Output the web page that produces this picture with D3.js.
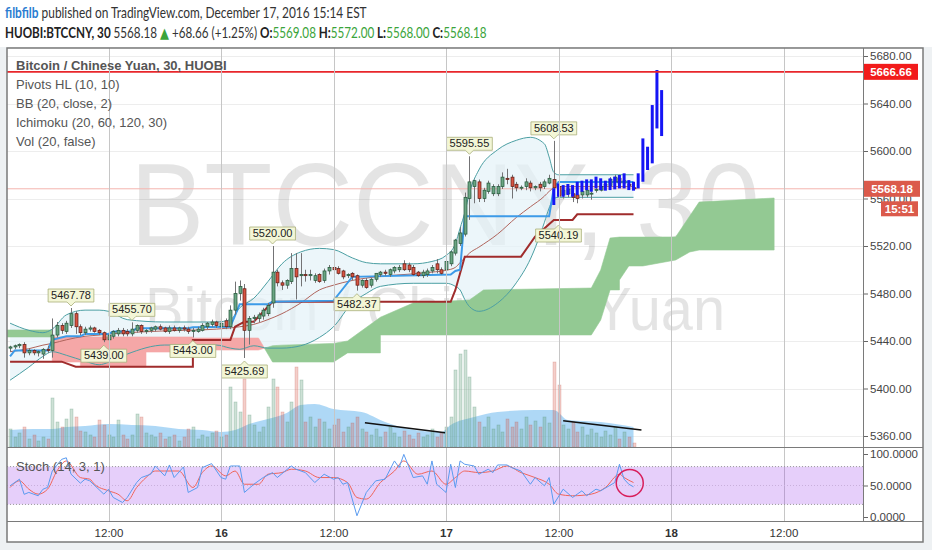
<!DOCTYPE html>
<html>
<head>
<meta charset="utf-8">
<script src="https://cdn.jsdelivr.net/npm/d3@7"></script>
<style>
  html, body { margin: 0; padding: 0; background: #fff; }
  svg { display: block; font-family: "Liberation Sans", Arial, sans-serif; }
</style>
</head>
<body>
<div id="chart"></div>
<script>
// 30 min candles, first bar Dec 15 01:30
const opens = [5434,5435,5436,5437,5430,5432,5430,5429,5433,5432, 5445,5453,5448,5453,5463,5452,5447,5450,5451,5449,
  5447,5441,5444,5446,5449,5448,5446,5449,5453,5448, 5449,5450,5452,5451,5448,5451,5449,5451,5450,5448,
  5448,5449,5452,5454,5456,5452,5457,5452,5466,5480, 5484,5449,5459,5459,5461,5463,5472,5498,5489,5487,
  5490,5501,5495,5496,5495,5491,5496,5491,5499,5502, 5501,5499,5495,5497,5495,5487,5491,5487,5492,5496,
  5498,5496,5499,5500,5505,5504,5502,5498,5495,5496, 5499,5505,5500,5500,5505,5514,5522,5530,5560,5570,
  5574,5560,5566,5564,5564,5570,5577,5578,5572,5569, 5570,5573,5569,5572,5570,5573,5576,5570,5563,5564,
  5564,5563,5563,5563,5564,5567,5567,5571,5571,5574, 5577,5573,5572,5569.08];
const highs = [5436,5437,5438,5439,5434,5433,5432,5434,5436,5459, 5456,5455,5457,5467.78,5465,5454,5452,5453,5452,5450,
  5448,5446,5449,5451,5451,5450,5455.7,5454,5454,5450, 5452,5453,5454,5452,5453,5453,5452,5453,5452,5451,
  5452,5455,5456,5458,5457,5456,5459,5470,5490,5491, 5488,5461,5462,5464,5468,5472,5520,5500,5491,5492,
  5514,5514,5514,5500,5500,5497,5497,5501,5504,5503, 5503,5500,5497,5498,5496,5492,5493,5493,5497,5499,
  5500,5501,5503,5504,5508,5506,5504,5499,5500,5501, 5504,5509,5502,5508,5516,5526,5536,5565,5595.55,5576,
  5576,5569,5575,5572,5572,5582,5585,5580,5574,5571, 5577,5575,5571,5574,5576,5580,5608.53,5572,5570,5570,
  5566,5564,5567,5569,5566,5569,5572,5573,5578,5580, 5580,5577,5574,5572];
const lows = [5431,5433,5434,5426,5428,5428,5427,5425,5430,5426, 5443,5446,5446,5451,5446,5445,5445,5448,5447,5445,
  5439,5440,5442,5444,5444,5444,5444,5447,5446,5446, 5447,5448,5449,5447,5446,5448,5447,5448,5446,5443,
  5447,5448,5450,5452,5451,5450,5450,5450,5462,5474, 5425.69,5437,5455,5456,5458,5461,5468,5486,5483,5484,
  5488,5475,5486,5490,5491,5489,5489,5489,5496,5497, 5496,5492,5493,5491,5482.37,5485,5484,5485,5490,5494,
  5495,5494,5497,5498,5499,5498,5495,5494,5493,5494, 5497,5497,5496,5498,5503,5512,5520,5528,5542,5556,
  5557,5557,5564,5562,5562,5568,5572,5560,5566,5567, 5567,5566,5567,5566,5568,5572,5560,5540.19,5560,5561,
  5557,5556,5560,5561,5559,5565,5566,5569,5569,5572, 5571,5571,5569,5568];
const closes = [5435,5436,5437,5430,5432,5430,5431,5433,5432,5445, 5453,5449,5455,5463,5452,5447,5450,5451,5448,5447,
  5441,5445,5448,5449,5446,5446,5450,5453,5448,5449, 5451,5452,5450,5448,5451,5449,5451,5450,5448,5449,
  5450,5453,5455,5456,5453,5455,5452,5466,5480,5486, 5449,5459,5460,5462,5466,5470,5498,5489,5487,5491,
  5501,5494,5496,5495,5496,5495,5490,5499,5502,5500, 5497,5494,5496,5494,5487,5491,5485,5492,5497,5498,
  5497,5500,5502,5502,5500,5500,5496,5495,5498,5499, 5502,5500,5497,5507,5515,5525,5531,5561,5574,5575,
  5560,5567,5573,5570,5570,5578,5576,5570,5569,5569.5, 5574,5569,5570,5569,5574,5577,5569,5562,5567,5568,
  5561,5560,5566,5567,5564.5,5567.5,5570,5572,5576,5578, 5573,5575,5571,5568.18];
const volumes = [18,10,14,20,8,12,6,10,8, 49,25,20,28,38,30,16, 15,12,10,27,22,12,10,27,12,
  8,12,33,30,14,12,10,14,8,10,12,6,10, 18,20,8,12,10,14,16,10,12,
  60,45,35,68,32,22,15,20,40,68,60,35,25,45,80, 67,
  25,30,20,28,25,18,22,28,15,20,24,30,18,15, 12,18,10,15,20,14,10,16,12,8,14,10,12,18,10,14,
  20,30,77,93,97,70,40, 25,20,30,18,22,15,28,20,25,18,30,22,26,20,30,24,
  85,62,22,18,25,15,20,12,18,14,10,16,12,20,8,15,10,4];

// volume MA (20)
const volMaBar = [0,5,9,12,16,21,26,31,36,41,45,48,51,55,59,62,65,69,75,80,85,92,94,99,104,112,116,119,126,133];
const volMa = [17,18,18,20,21,23,22,21,18,17,15,17,23,28,34,42,43,38,35,25,18,15,22,30,35,37,37,27,25,20];

// Bollinger (20, close, 2)
const bbBar = [0,4,7,9,12,16,19,21,25,33,44,47,49,52,55,58,62,66,69,73,76,79,86,90,93,95,96,97,98,100,104,108,111,114,115,116,117,125,133];
const bbUpper = [5455,5449,5447,5450,5462,5466,5466,5465,5458,5456,5456,5458,5468,5476,5490,5505,5515,5518,5517,5510,
  5506,5505,5505,5507,5512,5522,5535,5548,5565,5584,5601,5609,5611.5,5606,5595,5582,5580,5580,5580];
const bbLower = [5407,5418,5427,5431,5428,5423,5420,5422,5429,5436.6,5436.6,5434,5433,5436,5434,5434,5436,5443,5452,5472,
  5480,5486,5488.6,5488.6,5488.6,5486,5483,5475,5469,5465,5472,5489,5509,5540,5552,5560,5561,5561,5561];
const bbBasis = [5431,5433.5,5436.5,5438,5441,5444,5445,5446,5447,5448.5,5450,5451,5452,5454,5458,5463,5472,5483,5487,5491,
  5493,5494.5,5496.5,5498,5499.5,5502,5506,5510,5514,5519,5530,5544,5553,5562,5566,5569,5570,5570,5570];

// Ichimoku (20, 60, 120, 30)
const tenkanBar = [0,1,8,9,12,15,16,21,22,26,27,38,39,47,49,55,56,69,71,73,94,95,96,97,115,116,117,133];
const tenkan = [5427,5432,5432,5441,5444,5444,5446,5446,5448,5448,5450.7,5450.7,5451.5,5452,5471,5471,5473,5474,5484,5494,
  5496,5499,5500,5545,5545,5569,5574,5574];
const kijunBar = [0,11,14,39,39,47,48,50,52,56,94,95,97,109,112,116,120,121,133];
const kijun = [5422.6,5422.6,5418.4,5418.4,5440.9,5440.9,5452,5456.3,5456.3,5473,5473,5483,5511,5511,5527.8,5541.9,5541.9,5546.7,5546.7];
const cloudBar = [-1,9,9,15,15,29,29,39,39,53,56,58,69,72,79,79,86,98,101,124,126,128,130,130,132,135,142,145,147,163];
const spanA = [5449.3,5449.3,5422.3,5422.3,5418.1,5418.1,5430.7,5430.7,5432.4,5432.4,5436,5436.5,5438,5440,5460,5460,
  5472,5474.5,5483,5484.6,5499.8,5526.7,5527.5,5527.5,5527.5,5527.5,5527.6,5545.3,5557,5560.4];
const spanB = [5443.4,5443.4,5443.4,5443.4,5443.4,5443.4,5443.4,5443.4,5442.5,5442.5,5422.3,5422.3,5422.3,5430,5430,5445.1,
  5445.1,5445.1,5445.1,5445.1,5457.7,5483,5483,5491.4,5503.2,5503.2,5508.2,5515,5516.6,5516.6];

// Pivots HL (10, 10)
const pivotBar = [13,20,26,39,50,56,74,98,116,117];
const pivotKind = ["H","L","H","L","L","H","L","H","H","L"];

// bars pattern drawing (blue)
const ghostStart = 116;
const ghostHigh = [5568.5,5572.7,5571.3,5572.2,5571.3,5574.1,5575,5576.1,5576.1,5578.4,5577,5575,5577,5578.4,5579.8,5581.2,
  5575.5,5574.1,5581.2,5610.6,5603.6,5638.7,5668.2,5651.3];
const ghostLow = [5554.5,5561.5,5561.5,5562.9,5561.5,5562.9,5565.7,5567.1,5565.7,5568.5,5567.1,5566.6,5567.1,5567.7,5568.5,5568.5,
  5567.1,5566.6,5568.5,5574.1,5584,5589.6,5619,5612.6];

// trend lines on volume [bar, volume]
const volTrend1 = [[75.7, 24.3], [92.8, 14.3]];
const volTrend2 = [[118, 26.3], [134.7, 17]];

// Stoch (14, 3, 1)
const stochKBar = [0,2,3,4,6,7,8,9,11,12,13,15,16,17,20,21,22,24,25,27,28,30,31,33,34,35,37,38,40,41,43,45,46,47,49,50,52,54,56,57,
  60,61,63,65,67,69,70,71,72,74,76,78,80,82,83,84,86,88,89,90,91,93,94,95,96,97,99,100,102,103,104,106,107,109,111,112,114,115,116,118,
  120,122,123,125,126,129,130,131,132,133];
const stochK = [49.5,60,36,39,33.7,44,47,73,91.5,94,68,53.7,60,57.4,36.3,44,31,23,31,54.7,62.6,67.9,81,65.3,82.6,62.6,79.5,39,46.8,78.4,
  84.7,62.6,60,81,81,39,52,62.6,70.5,62.6,81,75.8,70.5,54.7,67.9,60,62.6,52,54.7,2,39,57.4,60,89,78.4,99.4,62.6,65.3,52,89,
  52,39,83.7,46.8,89,83.7,81,67.9,75.8,70.5,82.6,82.6,78.4,73,52,62.6,49.5,62.6,20.5,44.2,31,41.6,33.7,44.2,41.6,54.7,83.7,60,52,47.9];
const stochDBar = [0,2,4,6,8,10,12,15,17,18,21,23,25,27,29,31,33,36,39,41,43,46,48,50,53,55,58,60,63,66,69,72,74,76,79,82,84,87,90,93,
  95,97,100,103,106,109,112,115,117,120,124,127,130,131,133];
const stochD = [46.8,57.4,44.2,36.3,44.2,73,88.9,62.6,60,52,41.6,36.3,25.8,46.8,62.6,73,73,73,46.8,70.5,81,65.3,73,52,52,67.9,70.5,75.8,73,62.6,
  62.6,54.7,31,28.4,54.7,73,89,67.9,73,52,62.6,73,70.5,73,81,70.5,62.6,52,36.3,33.7,36.3,46.8,67.9,62.6,54.7];
const stochCircle = [132.2, 54];

const priceTicks = [5360,5400,5440,5480,5520,5560,5600,5640,5680];
const stochTicks = [0,50,100];
const timeTicks = [Date.UTC(2016,11,15,12), Date.UTC(2016,11,16), Date.UTC(2016,11,16,12), Date.UTC(2016,11,17),
  Date.UTC(2016,11,17,12), Date.UTC(2016,11,18), Date.UTC(2016,11,18,12)];
const timeLabels = ["12:00","16","12:00","17","12:00","18","12:00"];
const alertPrice = 5666.66;
const lastPrice = 5568.18;
const countdown = "15:51";

const W = 932, H = 550;
const left = 7, right = 863, frameRight = 923;
const mainTop = 48, mainBottom = 447, stochBottom = 521, frameBottom = 542;

let svg = d3.select("#chart").append("svg").attr("width", W).attr("height", H);
svg.append("rect").attr("x", 0).attr("y", 0).attr("width", W).attr("height", H).attr("fill", "#eef1f3");
svg.append("rect").attr("x", 0).attr("y", 0).attr("width", W).attr("height", 47).attr("fill", "#fff");
svg.append("rect").attr("x", left).attr("y", mainTop).attr("width", frameRight - left).attr("height", frameBottom - mainTop).attr("fill", "#fff");

// scales
const t0 = Date.UTC(2016, 11, 15, 1, 30);
const halfHour = 30 * 60 * 1000;
let x = d3.scaleUtc().domain([new Date(Date.UTC(2016,11,16)), new Date(Date.UTC(2016,11,17))]).range([221, 446]);
x.domain([x.invert(left), x.invert(right)]).range([left, right]);
const bx = i => x(new Date(t0 + i * halfHour));
const y = d3.scaleLinear().domain([5360, 5680]).range([436, 56]);
const yv = d3.scaleLinear().domain([0, 100]).range([447, 347]);
const ys = d3.scaleLinear().domain([0, 100]).range([517, 454]);

// header
let h1 = svg.append("text").attr("font-family", "Lato").attr("font-size", 14.5);
h1.append("tspan").attr("fill", "#2a7dd1").attr("font-weight", "bold").text("filbfilb");
h1.append("tspan").attr("fill", "#333").text(" published on TradingView.com, December 17, 2016 15:14 EST");
let h2 = svg.append("text").attr("font-family", "Lato").attr("font-size", 15);
const green = "#3ba43b";
h2.append("tspan").attr("fill", "#222").attr("font-weight", "bold").text("HUOBI:BTCCNY, 30 ");
h2.append("tspan").attr("fill", "#333").text(lastPrice.toFixed(2) + " ");
h2.append("tspan").attr("fill", green).attr("font-family", "DejaVu Sans").attr("font-size", 15).text("\u25B2");
h2.append("tspan").attr("fill", "#333").text(" +68.66 (+1.25%) ");
[["O:", "5569.08"], ["H:", "5572.00"], ["L:", "5568.00"], ["C:", "5568.18"]].forEach(function (p, k) {
  h2.append("tspan").attr("fill", "#222").attr("font-weight", "bold").text((k ? " " : "") + p[0]);
  h2.append("tspan").attr("fill", green).text(p[1]);
});
function fitText(t, x0, base, target) {
  let w = t.node().getComputedTextLength();
  t.attr("transform", "translate(" + x0 + "," + base + ") scale(" + (target / w) + ",1)");
}
fitText(h1, 5, 17.5, 362);
fitText(h2, 5, 37.5, 482);

svg.append("defs").append("clipPath").attr("id", "mainClip").append("rect")
  .attr("x", left).attr("y", mainTop).attr("width", right - left).attr("height", mainBottom - mainTop);
svg.select("defs").append("clipPath").attr("id", "stochClip").append("rect")
  .attr("x", left).attr("y", mainBottom).attr("width", right - left).attr("height", stochBottom - mainBottom);

let main = svg.append("g").attr("clip-path", "url(#mainClip)");

// grid
priceTicks.forEach(function (p) {
  main.append("line").attr("x1", left).attr("x2", right).attr("y1", Math.round(y(p)) + 0.5).attr("y2", Math.round(y(p)) + 0.5)
    .attr("stroke", "#ededed");
});
timeTicks.forEach(function (t) {
  let gx = Math.round(x(new Date(t))) + 0.5;
  svg.append("line").attr("x1", gx).attr("x2", gx).attr("y1", mainTop).attr("y2", stochBottom).attr("stroke", "#c6c6c6");
});

// watermark
main.append("text").attr("x", 130).attr("y", 245).attr("font-size", 116).attr("fill", "#000").attr("opacity", 0.1)
  .attr("textLength", 630).attr("lengthAdjust", "spacingAndGlyphs").text("BTCCNY, 30");
main.append("text").attr("x", 145).attr("y", 330).attr("font-size", 62).attr("fill", "#000").attr("opacity", 0.1)
  .attr("textLength", 580).attr("lengthAdjust", "spacingAndGlyphs").text("Bitcoin / Chinese Yuan");

// bollinger fill
const bb = bbBar.map((b, k) => ({i: b, u: bbUpper[k], l: bbLower[k], m: bbBasis[k]}));
main.append("path").datum(bb)
  .attr("d", d3.area().x(d => bx(d.i)).y0(d => y(d.l)).y1(d => y(d.u)).curve(d3.curveMonotoneX))
  .attr("fill", "#e4f2f8").attr("opacity", 0.7);

// ichimoku cloud, split where the spans cross
let runs = [], cur = null;
cloudBar.forEach(function (b, k) {
  let p = {i: b, a: spanA[k], b: spanB[k]};
  let s = Math.sign(p.a - p.b);
  if (!cur) { cur = {s: s, pts: [p]}; return; }
  let prev = cur.pts[cur.pts.length - 1];
  if (s === cur.s || s === 0) { cur.pts.push(p); return; }
  let d0 = prev.a - prev.b, d1 = p.a - p.b, t = d0 / (d0 - d1);
  let c = {i: prev.i + t * (p.i - prev.i), a: prev.a + t * (p.a - prev.a)};
  c.b = c.a;
  cur.pts.push(c); runs.push(cur);
  cur = {s: s, pts: [c, p]};
});
runs.push(cur);
const cloudArea = d3.area().x(d => bx(d.i)).y0(d => y(d.b)).y1(d => y(d.a));
runs.forEach(function (r) {
  main.append("path").attr("d", cloudArea(r.pts)).attr("fill", r.s > 0 ? "#93c993" : "#f5a7a7")
    .attr("stroke", r.s > 0 ? "#93c993" : "#f5a7a7").attr("stroke-width", 0.6);
});

// volume
const vm = volMaBar.map((b, k) => ({i: b, v: volMa[k]}));
main.append("path").datum(vm)
  .attr("d", d3.area().x(d => bx(d.i)).y0(yv(0)).y1(d => yv(d.v)).curve(d3.curveMonotoneX))
  .attr("fill", "rgb(120,190,240)").attr("opacity", 0.6);
const bars = opens.map((o, i) => ({i: i, o: o, h: highs[i], l: lows[i], c: closes[i], v: volumes[i]}));
main.selectAll(".vol").data(bars).enter().append("rect")
  .attr("x", d => Math.round(bx(d.i)) - 1).attr("width", 3)
  .attr("y", d => yv(d.v)).attr("height", d => yv(0) - yv(d.v))
  .attr("fill", d => d.c >= d.o ? "rgba(107,165,131,0.33)" : "rgba(215,84,66,0.28)")
  .attr("stroke", d => d.c >= d.o ? "rgba(80,140,110,0.4)" : "rgba(190,80,70,0.35)").attr("stroke-width", 0.6);
[volTrend1, volTrend2].forEach(function (ln) {
  main.append("line").attr("x1", bx(ln[0][0])).attr("y1", yv(ln[0][1])).attr("x2", bx(ln[1][0])).attr("y2", yv(ln[1][1]))
    .attr("stroke", "#111").attr("stroke-width", 1.5);
});

// last price line
main.append("line").attr("x1", left).attr("x2", right).attr("y1", y(lastPrice)).attr("y2", y(lastPrice))
  .attr("stroke", "#f4b4ae").attr("stroke-width", 1);

// bollinger lines
const bbLine = key => d3.line().x(d => bx(d.i)).y(d => y(d[key])).curve(d3.curveMonotoneX);
main.append("path").datum(bb).attr("d", bbLine("u")).attr("fill", "none").attr("stroke", "#4b9fa3").attr("stroke-width", 1);
main.append("path").datum(bb).attr("d", bbLine("l")).attr("fill", "none").attr("stroke", "#4b9fa3").attr("stroke-width", 1);
main.append("path").datum(bb).attr("d", bbLine("m")).attr("fill", "none").attr("stroke", "#b0645c").attr("stroke-width", 1);

// ichimoku lines
const stepLine = d3.line().x(d => bx(d[0])).y(d => y(d[1]));
main.append("path").attr("d", stepLine(kijunBar.map((b, k) => [b, kijun[k]])))
  .attr("fill", "none").attr("stroke", "#a02c2c").attr("stroke-width", 2);
main.append("path").attr("d", stepLine(tenkanBar.map((b, k) => [b, tenkan[k]])))
  .attr("fill", "none").attr("stroke", "#3d9be8").attr("stroke-width", 2);

// candles
let cg = main.append("g");
bars.forEach(function (d) {
  let cx = Math.round(bx(d.i)) + 0.5;
  let up = d.c >= d.o;
  cg.append("line").attr("x1", cx).attr("x2", cx).attr("y1", y(d.h)).attr("y2", y(d.l)).attr("stroke", "#737375");
  let top = y(Math.max(d.o, d.c)), bot = y(Math.min(d.o, d.c));
  cg.append("rect").attr("x", cx - 1.5).attr("width", 3).attr("y", top).attr("height", Math.max(1, bot - top))
    .attr("fill", up ? "#6ba583" : "#d75442").attr("stroke", up ? "#225437" : "#5b1a13").attr("stroke-width", 0.7);
});

// blue bars pattern
ghostHigh.forEach(function (hv, k) {
  let gx = bx(ghostStart + k);
  main.append("line").attr("x1", gx).attr("x2", gx).attr("y1", y(hv)).attr("y2", y(ghostLow[k]))
    .attr("stroke", "#1515f5").attr("stroke-width", 3);
});

// alert line
main.append("line").attr("x1", left).attr("x2", right).attr("y1", y(alertPrice)).attr("y2", y(alertPrice))
  .attr("stroke", "#e8262b").attr("stroke-width", 1.6);

// pivot labels
pivotBar.forEach(function (b, k) {
  let hi = pivotKind[k] === "H";
  let val = hi ? highs[b] : lows[b];
  let cx = bx(b), py = y(val);
  let t = main.append("text").attr("font-size", 11).attr("fill", "#222").attr("text-anchor", "middle").text(val.toFixed(2));
  let w = t.node().getComputedTextLength() + 6, hgt = 13;
  let path;
  if (hi) {
    let bb2 = py - 6, tp = bb2 - hgt;
    path = `M${cx - w / 2},${tp}H${cx + w / 2}V${bb2}H${cx + 4}L${cx},${py - 2}L${cx - 4},${bb2}H${cx - w / 2}Z`;
    t.attr("x", cx).attr("y", bb2 - 3);
  } else {
    let tp = py + 7, bb2 = tp + hgt;
    path = `M${cx - w / 2},${tp}H${cx - 4}L${cx},${py + 3}L${cx + 4},${tp}H${cx + w / 2}V${bb2}H${cx - w / 2}Z`;
    t.attr("x", cx).attr("y", bb2 - 3);
  }
  main.insert("path", function () { return t.node(); }).attr("d", path).attr("fill", "#f3f6d6").attr("stroke", "#a9b07a").attr("stroke-width", 0.8);
});

// legend
const legend = ["Pivots HL (10, 10)", "BB (20, close, 2)", "Ichimoku (20, 60, 120, 30)", "Vol (20, false)"];
svg.append("text").attr("x", 16).attr("y", 70).attr("font-size", 13).attr("font-weight", "bold").attr("fill", "#555")
  .text("Bitcoin / Chinese Yuan, 30, HUOBI");
legend.forEach(function (s, k) {
  svg.append("text").attr("x", 16).attr("y", 89 + k * 19).attr("font-size", 13).attr("fill", "#555").text(s);
});

// stoch pane
let st = svg.append("g").attr("clip-path", "url(#stochClip)");
st.append("rect").attr("x", left).attr("width", right - left).attr("y", ys(80)).attr("height", ys(20) - ys(80))
  .attr("fill", "rgb(160,70,235)").attr("opacity", 0.26);
[80, 20].forEach(function (v) {
  st.append("line").attr("x1", left).attr("x2", right).attr("y1", ys(v)).attr("y2", ys(v))
    .attr("stroke", "#999").attr("stroke-dasharray", "1,2");
});
st.append("line").attr("x1", left).attr("x2", right).attr("y1", ys(50)).attr("y2", ys(50))
  .attr("stroke", "#c9b0dc").attr("stroke-dasharray", "1,2");
st.append("path").attr("d", d3.line().x(d => bx(d[0])).y(d => ys(d[1])).curve(d3.curveMonotoneX)(stochDBar.map((b, k) => [b, stochD[k]])))
  .attr("fill", "none").attr("stroke", "#f0655a").attr("stroke-width", 1);
st.append("path").attr("d", d3.line().x(d => bx(d[0])).y(d => ys(d[1]))(stochKBar.map((b, k) => [b, stochK[k]])))
  .attr("fill", "none").attr("stroke", "#5a9bf0").attr("stroke-width", 1);
st.append("circle").attr("cx", bx(stochCircle[0])).attr("cy", ys(stochCircle[1])).attr("r", 13.5)
  .attr("fill", "none").attr("stroke", "#d81e5b").attr("stroke-width", 1.5);
svg.append("text").attr("x", 16).attr("y", 471).attr("font-size", 13).attr("fill", "#555").text("Stoch (14, 3, 1)");

// axes
let pa = svg.append("g").attr("transform", "translate(" + right + ",0)")
  .call(d3.axisRight(y).tickValues(priceTicks).tickFormat(d3.format(".2f")).tickSize(5).tickPadding(2));
pa.select(".domain").remove();
pa.selectAll("text").attr("font-size", 11.5).attr("fill", "#444").attr("font-family", "Liberation Sans");
pa.selectAll("line").attr("stroke", "#666");

svg.select("defs").append("clipPath").attr("id", "stochAxisClip").append("rect")
  .attr("x", right).attr("y", mainBottom).attr("width", frameRight - right).attr("height", stochBottom - mainBottom);
let sa = svg.append("g").attr("clip-path", "url(#stochAxisClip)").append("g").attr("transform", "translate(" + right + ",0)")
  .call(d3.axisRight(ys).tickValues(stochTicks).tickFormat(d3.format(".4f")).tickSize(5).tickPadding(2));
sa.select(".domain").remove();
sa.selectAll("text").attr("font-size", 11.5).attr("fill", "#444").attr("font-family", "Liberation Sans");
sa.selectAll("line").attr("stroke", "#666");

let ta = svg.append("g").attr("transform", "translate(0," + stochBottom + ")")
  .call(d3.axisBottom(x).tickValues(timeTicks.map(t => new Date(t))).tickFormat((d, k) => timeLabels[k]).tickSize(0).tickPadding(8));
ta.select(".domain").remove();
ta.selectAll("text").attr("font-size", 11.5).attr("fill", "#333").attr("font-family", "Liberation Sans")
  .attr("font-weight", (d, k) => timeLabels[k].length <= 2 ? "bold" : "normal");

// frame
const frameColor = "#7a7a7a";
svg.append("rect").attr("x", left).attr("y", mainTop).attr("width", frameRight - left).attr("height", frameBottom - mainTop)
  .attr("fill", "none").attr("stroke", frameColor).attr("stroke-width", 1.5);
svg.append("line").attr("x1", right + 0.5).attr("x2", right + 0.5).attr("y1", mainTop).attr("y2", stochBottom).attr("stroke", frameColor);
svg.append("line").attr("x1", left).attr("x2", frameRight).attr("y1", mainBottom + 0.5).attr("y2", mainBottom + 0.5).attr("stroke", frameColor);
svg.append("line").attr("x1", left).attr("x2", frameRight).attr("y1", stochBottom + 0.5).attr("y2", stochBottom + 0.5).attr("stroke", frameColor);

// price labels on the axis
function axisLabel(yc, txt, bg, x0, w, h) {
  svg.append("rect").attr("x", x0).attr("y", yc - h / 2).attr("width", w).attr("height", h).attr("fill", bg);
  svg.append("text").attr("x", x0 + w / 2).attr("y", yc + 4).attr("text-anchor", "middle").attr("font-size", 11.5)
    .attr("fill", "#fff").attr("font-weight", "bold").text(txt);
}
axisLabel(y(alertPrice), alertPrice.toFixed(2), "#f21b1b", right + 1, 54, 16);
axisLabel(y(lastPrice), lastPrice.toFixed(2), "#db5a4b", right + 1, 56, 16);
axisLabel(y(lastPrice) + 20, countdown, "#db5a4b", 881, 37, 15);
</script>
</body>
</html>
